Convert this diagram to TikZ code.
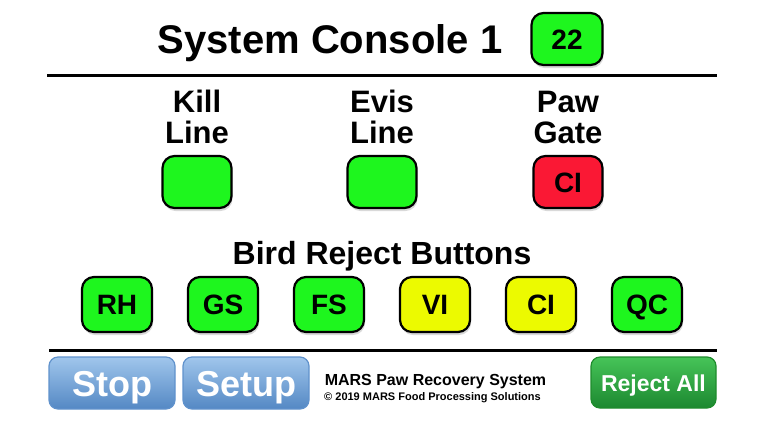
\documentclass[tikz,border=0pt]{standalone}
\usepackage{fontspec}
\setmainfont{Liberation Sans}
\usetikzlibrary{shadows}
\definecolor{lampgreen}{RGB}{30,246,30}
\definecolor{lampyellow}{RGB}{236,250,0}
\definecolor{lampred}{RGB}{250,24,52}
\definecolor{keybluetop}{RGB}{160,198,236}
\definecolor{keybluebot}{RGB}{84,136,196}
\definecolor{keyblueedge}{RGB}{96,146,204}
\definecolor{keygreentop}{RGB}{70,196,88}
\definecolor{keygreenbot}{RGB}{28,136,48}
\definecolor{keygreenedge}{RGB}{30,140,44}
\tikzset{
  lamp/.style={draw=black, line width=2.2pt, rounded corners=12pt,
    minimum width=69pt, minimum height=52pt, inner sep=0pt,
    text height=20pt, text depth=0pt,
    font=\bfseries\fontsize{28}{28}\selectfont,
    drop shadow={shadow xshift=1pt, shadow yshift=-3pt, opacity=0.3}},
  heading/.style={anchor=base, font=\bfseries\fontsize{31}{31}\selectfont},
  softkey/.style={draw=keyblueedge, line width=1.2pt, rounded corners=9pt,
    minimum width=126pt, minimum height=52pt, inner sep=0pt,
    top color=keybluetop, bottom color=keybluebot, text=white,
    text height=26pt, text depth=0pt,
    font=\bfseries\fontsize{36}{36}\selectfont},
  rule/.style={line width=3pt}
}
\begin{document}
\begin{tikzpicture}[x=1pt,y=-1pt]
  \useasboundingbox (0,0) rectangle (767,421);
  % header
  \node[anchor=base, font=\bfseries\fontsize{40}{40}\selectfont] (title) at (330,53) {System Console 1};
  \node[lamp, fill=lampgreen, minimum width=71pt] (count) at (567,39) {22};
  \draw[rule] (47,75) -- (717,75);
  % line status
  \foreach \x/\n/\a/\b/\c/\t in {197/kill/Kill/Line/lampgreen/{},
                                 382/evis/Evis/Line/lampgreen/{},
                                 568/paw/Paw/Gate/lampred/CI} {
    \node[heading] (\n-top) at (\x,112) {\a};
    \node[heading] (\n-bot) at (\x,143) {\b};
    \node[lamp, fill=\c] (\n) at (\x,182) {\t};
  }
  % reject buttons
  \node[heading, font=\bfseries\fontsize{32}{32}\selectfont] (reject) at (382,264) {Bird Reject Buttons};
  \foreach \t/\c [count=\i from 0] in {RH/lampgreen, GS/lampgreen, FS/lampgreen,
                                       VI/lampyellow, CI/lampyellow, QC/lampgreen} {
    \node[lamp, fill=\c, minimum width=70pt, minimum height=55pt] (rej\i) at ({117+106*\i},304.5) {\t};
  }
  \draw[rule] (49,350) -- (717,350);
  % footer
  \node[softkey] (stop) at (112,383) {Stop};
  \node[softkey] (setup) at (246,383) {Setup};
  \node[anchor=base, font=\bfseries\fontsize{16}{16}\selectfont] (brand) at (435.5,385) {MARS Paw Recovery System};
  \node[anchor=base, font=\bfseries\fontsize{11}{11}\selectfont] (copy) at (432.5,400) {© 2019 MARS Food Processing Solutions};
  \node[softkey, draw=keygreenedge, top color=keygreentop, bottom color=keygreenbot,
        minimum width=125pt, minimum height=51pt, text height=17pt,
        font=\bfseries\fontsize{23}{23}\selectfont] (rejectall) at (653.5,382.5) {Reject All};
\end{tikzpicture}
\end{document}
